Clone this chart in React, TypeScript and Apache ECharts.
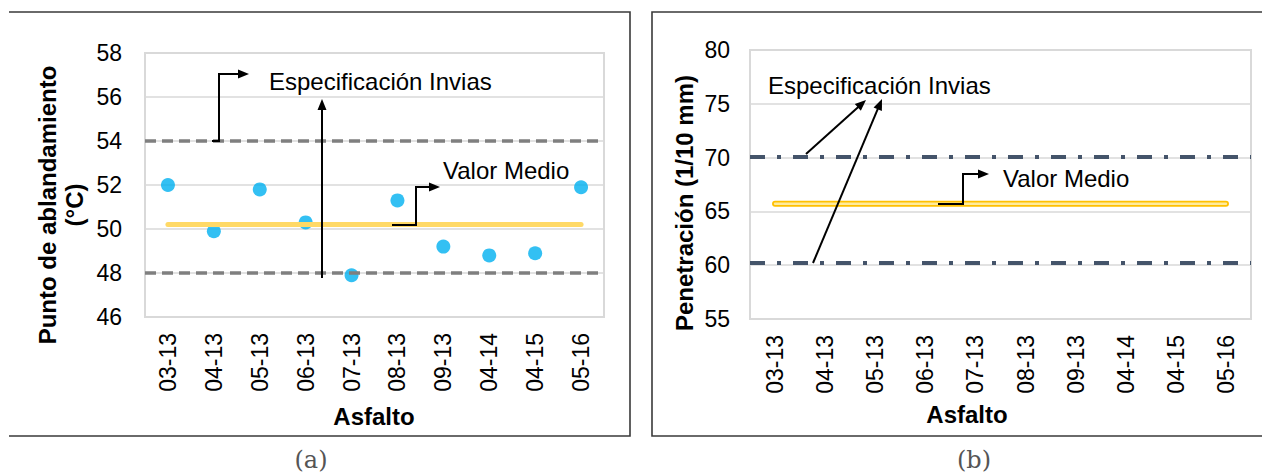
import React, { useEffect, useRef } from "react";
import * as echarts from "echarts";

// ---- data ----
const categories = ["03-13", "04-13", "05-13", "06-13", "07-13", "08-13", "09-13", "04-14", "04-15", "05-16"];
const softeningPoint = [52.0, 49.9, 51.8, 50.3, 47.9, 51.3, 49.2, 48.8, 48.9, 51.9];
const softeningMean = 50.2;
const softeningSpec = [54, 48];
const softeningAxis = [46, 58, 2]; // min, max, interval
const penetrationMean = 65.7;
const penetrationSpec = [70.1, 60.2];
const penetrationAxis = [55, 80, 5];

const FONT = "'Liberation Sans', Arial, sans-serif";

type Pt = [number, number];

function arrow(points: Pt[], len = 11, half = 4.5): any[] {
  const n = points.length;
  const [x1, y1] = points[n - 2];
  const [x2, y2] = points[n - 1];
  const dx = x2 - x1, dy = y2 - y1;
  const d = Math.hypot(dx, dy);
  const ux = dx / d, uy = dy / d;
  const bx = x2 - ux * len, by = y2 - uy * len;
  const shaft = points.slice(0, n - 1).concat([[bx + ux * 1, by + uy * 1]]);
  return [
    {
      type: "polyline",
      silent: true,
      z: 100,
      shape: { points: shaft },
      style: { stroke: "#000", lineWidth: 2, fill: null },
    },
    {
      type: "polygon",
      silent: true,
      z: 100,
      shape: {
        points: [
          [x2, y2],
          [bx - uy * half, by + ux * half],
          [bx + uy * half, by - ux * half],
        ],
      },
      style: { fill: "#000" },
    },
  ];
}

function text(t: string, x: number, y: number, opts: any = {}): any {
  return {
    type: "text",
    silent: true,
    z: 100,
    x,
    y,
    rotation: opts.rotation || 0,
    style: {
      text: t,
      fontFamily: opts.fontFamily || FONT,
      fontSize: opts.fontSize || 24,
      fontWeight: opts.fontWeight || "normal",
      fill: opts.fill || "#000",
      align: opts.align || "left",
      verticalAlign: "middle",
    },
  };
}

export default function App() {
  const ref = useRef<HTMLDivElement>(null);

  useEffect(() => {
    if (!ref.current) return;
    const chart = echarts.init(ref.current, undefined, { renderer: "svg" });

    const xAxisBase = {
      type: "category",
      data: categories,
      boundaryGap: true,
      axisLine: { show: false },
      axisTick: { show: false },
      axisLabel: {
        interval: 0,
        rotate: 90,
        margin: 16,
        fontSize: 23,
        color: "#000",
        fontFamily: FONT,
      },
    };
    const yAxisBase = {
      type: "value",
      axisLine: { show: false },
      axisTick: { show: false },
      splitLine: { lineStyle: { color: "#d9d9d9", width: 1.5 } },
    };

    const option: any = {
      animation: false,
      grid: [
        { left: 145, top: 53, width: 459, height: 264, show: true, borderColor: "#d9d9d9", borderWidth: 2 },
        { left: 750, top: 50, width: 501, height: 269, show: true, borderColor: "#d9d9d9", borderWidth: 2 },
      ],
      xAxis: [
        { ...xAxisBase, gridIndex: 0 },
        { ...xAxisBase, gridIndex: 1 },
      ],
      yAxis: [
        {
          ...yAxisBase,
          gridIndex: 0,
          min: softeningAxis[0],
          max: softeningAxis[1],
          interval: softeningAxis[2],
          axisLabel: { fontSize: 23, margin: 23, color: "#000", fontFamily: FONT },
        },
        {
          ...yAxisBase,
          gridIndex: 1,
          min: penetrationAxis[0],
          max: penetrationAxis[1],
          interval: penetrationAxis[2],
          axisLabel: { fontSize: 23, margin: 20, color: "#000", fontFamily: FONT },
        },
      ],
      series: [
        {
          type: "scatter",
          name: "Punto de ablandamiento",
          xAxisIndex: 0,
          yAxisIndex: 0,
          data: softeningPoint,
          symbolSize: 14,
          itemStyle: { color: "#00b0f0" },
          z: 2,
        },
        {
          type: "line",
          name: "Valor Medio A",
          xAxisIndex: 0,
          yAxisIndex: 0,
          data: [
            [categories[0], softeningMean],
            [categories[categories.length - 1], softeningMean],
          ],
          showSymbol: false,
          symbol: "none",
          lineStyle: { color: "#ffd966", width: 5, cap: "round" },
          z: 3,
        },
        {
          type: "line",
          name: "Especificación A",
          xAxisIndex: 0,
          yAxisIndex: 0,
          data: [],
          z: 4,
          markLine: {
            silent: true,
            symbol: ["none", "none"],
            label: { show: false },
            lineStyle: { color: "#7f7f7f", width: 3.5, type: [11, 6] },
            data: softeningSpec.map((v) => ({ yAxis: v })),
          },
        },
        {
          type: "line",
          name: "Especificación B",
          xAxisIndex: 1,
          yAxisIndex: 1,
          data: [],
          z: 4,
          markLine: {
            silent: true,
            symbol: ["none", "none"],
            label: { show: false },
            lineStyle: { color: "#44546a", width: 4, type: [15, 12, 4, 12] },
            data: penetrationSpec.map((v) => ({ yAxis: v })),
          },
        },
        {
          type: "line",
          name: "Valor Medio B outline",
          xAxisIndex: 1,
          yAxisIndex: 1,
          data: [
            [categories[0], penetrationMean],
            [categories[categories.length - 1], penetrationMean],
          ],
          symbol: "none",
          lineStyle: { color: "#ffc000", width: 6, cap: "round" },
          z: 5,
        },
        {
          type: "line",
          name: "Valor Medio B",
          xAxisIndex: 1,
          yAxisIndex: 1,
          data: [
            [categories[0], penetrationMean],
            [categories[categories.length - 1], penetrationMean],
          ],
          symbol: "none",
          lineStyle: { color: "#ffeb9c", width: 2.5, cap: "round" },
          z: 6,
        },
      ],
      graphic: [
        // panel frames
        {
          type: "polyline",
          silent: true,
          shape: { points: [[9, 12], [630, 12], [630, 436], [9, 436]] },
          style: { stroke: "#3a3a3a", lineWidth: 1.6, fill: null },
        },
        {
          type: "polyline",
          silent: true,
          shape: { points: [[1262, 12], [652, 12], [652, 436], [1262, 436]] },
          style: { stroke: "#3a3a3a", lineWidth: 1.6, fill: null },
        },
        // axis titles
        text("Punto de ablandamiento", 47, 205, { fontWeight: "bold", align: "center", rotation: Math.PI / 2 }),
        text("(°C)", 74, 205, { fontWeight: "bold", align: "center", rotation: Math.PI / 2 }),
        text("Asfalto", 374, 416, { fontWeight: "bold", align: "center" }),
        text("Penetración (1/10 mm)", 684, 203, { fontWeight: "bold", align: "center", rotation: Math.PI / 2 }),
        text("Asfalto", 967, 414, { fontWeight: "bold", align: "center" }),
        // captions
        text("(a)", 311, 460, { fontFamily: "'DejaVu Serif', serif", fontSize: 24, fill: "#555", align: "center" }),
        text("(b)", 974, 460, { fontFamily: "'DejaVu Serif', serif", fontSize: 24, fill: "#555", align: "center" }),
        // annotations left
        text("Especificación Invias", 269, 81),
        text("Valor Medio", 443, 170),
        ...arrow([[212, 141], [219, 141], [219, 74], [249, 74]]),
        ...arrow([[322, 278], [322, 99]]),
        ...arrow([[392, 225], [416, 225], [416, 187], [440, 187]]),
        // annotations right
        text("Especificación Invias", 768, 85),
        text("Valor Medio", 1003, 178),
        ...arrow([[806, 154], [866, 100]]),
        ...arrow([[813, 263], [882, 99]]),
        ...arrow([[938, 204], [963, 204], [963, 174], [989, 174]]),
      ],
    };

    chart.setOption(option);
    return () => chart.dispose();
  }, []);

  return (
    <div
      ref={ref}
      style={{ position: "absolute", left: 0, top: 0, width: 1262, height: 474, background: "#fff" }}
    />
  );
}
